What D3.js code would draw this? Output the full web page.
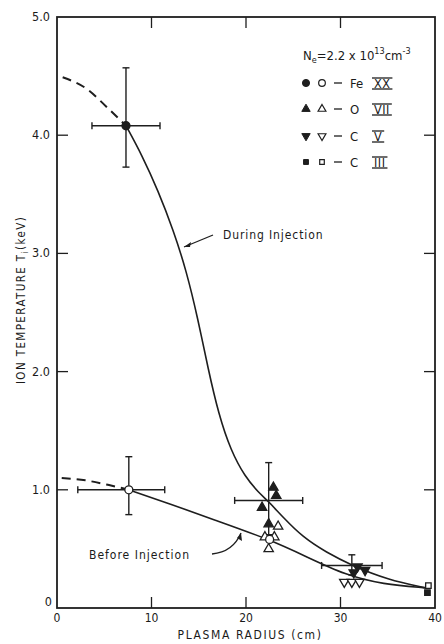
<!DOCTYPE html>
<html>
<head>
<meta charset="utf-8">
<script src="https://cdn.jsdelivr.net/npm/d3@7"></script>
<style>
  html, body { margin: 0; padding: 0; background: #fff; }
  svg text { font-family: "DejaVu Sans Condensed", "DejaVu Sans", sans-serif; fill: #1a1a1a; }
</style>
</head>
<body>
<svg id="chart" width="444" height="644"></svg>
<script>
// Axis ticks
const xTicks = [0, 10, 20, 30, 40];
const xTickLabels = ["0", "10", "20", "30", "40"];
const yTicks = [0, 1, 2, 3, 4, 5];
const yTickLabels = ["0", "1.0", "2.0", "3.0", "4.0", "5.0"];

// Fitted profiles: [radius cm, Ti keV]
const duringExtrap = [[0.6, 4.49], [3, 4.4], [5.5, 4.22], [7.3, 4.08]];
const duringFit = [[7.3, 4.08], [9.0, 3.83], [10.7, 3.53], [12.3, 3.2], [13.7, 2.85], [14.9, 2.45], [16.0, 2.02], [17.1, 1.64], [18.4, 1.33], [19.9, 1.11], [21.3, 0.98], [22.4, 0.9], [24.0, 0.76], [26.0, 0.6], [28.5, 0.47], [31.2, 0.36], [35, 0.24], [39, 0.17]];
const beforeExtrap = [[0.5, 1.1], [3, 1.08], [5.5, 1.04], [7.6, 1.0]];
const beforeFit = [[7.6, 1.0], [12, 0.88], [16.5, 0.75], [22.5, 0.58], [26.5, 0.43], [30.5, 0.28], [34.5, 0.2], [39, 0.17]];

// Error crosses: centre, radial span, temperature span
const errR = [7.3, 7.6, 22.4, 31.2];
const errT = [4.08, 1.0, 0.91, 0.36];
const errRLo = [3.7, 2.2, 18.8, 28.0];
const errRHi = [10.9, 11.4, 26.0, 34.4];
const errTLo = [3.73, 0.79, 0.62, 0.28];
const errTHi = [4.57, 1.28, 1.23, 0.45];

// Line-ratio measurements, by ion (filled = during, open = before)
const feDuring = [[7.3, 4.08]];
const feBefore = [[7.6, 1.0], [22.5, 0.58]];
const oDuring = [[22.9, 1.02], [23.2, 0.95], [21.7, 0.85], [22.4, 0.71]];
const oBefore = [[23.4, 0.69], [22.0, 0.6], [23.0, 0.6], [22.4, 0.5]];
const cvDuring = [[31.8, 0.35], [32.6, 0.32], [31.4, 0.3]];
const cvBefore = [[30.4, 0.22], [31.2, 0.22], [32.0, 0.22]];
const ciiiDuring = [[39.2, 0.13]];
const ciiiBefore = [[39.3, 0.19]];

// Legend rows
const legendSymbols = ["circle", "triangle", "triangleDown", "square"];
const legendElements = ["Fe", "O", "C", "C"];
const legendStages = ["XX", "VII", "V", "III"];

const svg = d3.select("#chart");
const x = d3.scaleLinear().domain([0, 40]).range([57, 435]);
const y = d3.scaleLinear().domain([0, 5]).range([608, 17]);
const ink = "#1e1e1e";

// Frame
svg.append("rect")
  .attr("x", x(0)).attr("y", y(5))
  .attr("width", x(40) - x(0)).attr("height", y(0) - y(5))
  .attr("fill", "none").attr("stroke", ink).attr("stroke-width", 1.8);

// Inward ticks on all four sides
const tickLen = 11;
const ticksG = svg.append("g").attr("stroke", ink).attr("stroke-width", 1.3);
xTicks.slice(1, -1).forEach(v => {
  ticksG.append("line").attr("x1", x(v)).attr("x2", x(v)).attr("y1", y(0)).attr("y2", y(0) - tickLen);
  ticksG.append("line").attr("x1", x(v)).attr("x2", x(v)).attr("y1", y(5)).attr("y2", y(5) + tickLen);
});
yTicks.slice(1, -1).forEach(v => {
  ticksG.append("line").attr("x1", x(0)).attr("x2", x(0) + tickLen).attr("y1", y(v)).attr("y2", y(v));
  ticksG.append("line").attr("x1", x(40)).attr("x2", x(40) - tickLen).attr("y1", y(v)).attr("y2", y(v));
});

// Tick labels
svg.append("g").selectAll("text").data(xTicks).join("text")
  .attr("x", d => x(d)).attr("y", 622)
  .attr("text-anchor", "middle").attr("font-size", 12)
  .text((d, i) => xTickLabels[i]);
svg.append("g").selectAll("text").data(yTicks).join("text")
  .attr("x", d => d === 0 ? 52 : 50).attr("y", d => y(d) + (d === 0 ? -2 : 4))
  .attr("text-anchor", "end").attr("font-size", 12.5)
  .text((d, i) => yTickLabels[i]);

// Axis titles
svg.append("text").attr("x", 250).attr("y", 639).attr("text-anchor", "middle")
  .attr("font-size", 12).attr("letter-spacing", 1.6).text("PLASMA RADIUS (cm)");
const yTitle = svg.append("text")
  .attr("transform", "translate(25,300) rotate(-90)")
  .attr("text-anchor", "middle").attr("font-size", 11.5).attr("letter-spacing", 1.4);
yTitle.append("tspan").text("ION TEMPERATURE  T");
yTitle.append("tspan").attr("font-size", 8).attr("dy", 3).text("i");
yTitle.append("tspan").attr("dy", -3).text("(keV)");

// Profiles: smooth B-spline through the hand-fitted points
const smooth = d3.line().x(d => x(d[0])).y(d => y(d[1])).curve(d3.curveBasis);
const dashed = d3.line().x(d => x(d[0])).y(d => y(d[1])).curve(d3.curveMonotoneX);
svg.append("path").datum(duringExtrap).attr("d", dashed)
  .attr("fill", "none").attr("stroke", ink).attr("stroke-width", 2).attr("stroke-dasharray", "9,6");
svg.append("path").datum(beforeExtrap).attr("d", dashed)
  .attr("fill", "none").attr("stroke", ink).attr("stroke-width", 2).attr("stroke-dasharray", "9,6");
svg.append("path").datum(duringFit).attr("d", smooth)
  .attr("fill", "none").attr("stroke", ink).attr("stroke-width", 1.6);
svg.append("path").datum(beforeFit).attr("d", smooth)
  .attr("fill", "none").attr("stroke", ink).attr("stroke-width", 1.6);

// Error crosses with end caps
const errG = svg.append("g").attr("stroke", ink).attr("stroke-width", 1.4);
const cap = 3.5;
errR.forEach((r, i) => {
  errG.append("line").attr("x1", x(errRLo[i])).attr("x2", x(errRHi[i])).attr("y1", y(errT[i])).attr("y2", y(errT[i]));
  errG.append("line").attr("x1", x(r)).attr("x2", x(r)).attr("y1", y(errTLo[i])).attr("y2", y(errTHi[i]));
  errG.append("line").attr("x1", x(errRLo[i])).attr("x2", x(errRLo[i])).attr("y1", y(errT[i]) - cap).attr("y2", y(errT[i]) + cap);
  errG.append("line").attr("x1", x(errRHi[i])).attr("x2", x(errRHi[i])).attr("y1", y(errT[i]) - cap).attr("y2", y(errT[i]) + cap);
  errG.append("line").attr("x1", x(r) - cap).attr("x2", x(r) + cap).attr("y1", y(errTLo[i])).attr("y2", y(errTLo[i]));
  errG.append("line").attr("x1", x(r) - cap).attr("x2", x(r) + cap).attr("y1", y(errTHi[i])).attr("y2", y(errTHi[i]));
});

// Marker shapes
const symbolTypes = {
  circle: d3.symbolCircle,
  triangle: d3.symbolTriangle,
  triangleDown: d3.symbolTriangle,
  square: d3.symbolSquare
};
const symbolSizes = { circle: 50, triangle: 38, triangleDown: 38, square: 30 };
function drawMarks(data, kind, filled) {
  svg.append("g").selectAll("path").data(data).join("path")
    .attr("d", d3.symbol().type(symbolTypes[kind]).size(symbolSizes[kind]))
    .attr("transform", d => `translate(${x(d[0])},${y(d[1])})` + (kind === "triangleDown" ? " rotate(180)" : ""))
    .attr("fill", filled ? ink : "#fff")
    .attr("stroke", ink).attr("stroke-width", 1.3);
}
drawMarks(oBefore, "triangle", false);
drawMarks(oDuring, "triangle", true);
drawMarks(cvBefore, "triangleDown", false);
drawMarks(cvDuring, "triangleDown", true);
drawMarks(ciiiDuring, "square", true);
drawMarks(ciiiBefore, "square", false);
drawMarks(feBefore, "circle", false);
drawMarks(feDuring, "circle", true);

// Curve annotations
svg.append("text").attr("x", 223).attr("y", 239).attr("font-size", 12).attr("letter-spacing", 0.9)
  .text("During Injection");
svg.append("path").attr("d", "M213,235 L184,247").attr("stroke", ink).attr("stroke-width", 1.3).attr("fill", "none");
svg.append("path").attr("d", "M184,247 l7,-5 l-1,5 z").attr("fill", ink);
svg.append("text").attr("x", 89).attr("y", 559).attr("font-size", 12).attr("letter-spacing", 1.0)
  .text("Before Injection");
svg.append("path").attr("d", "M212,554 Q233,552 241,533").attr("stroke", ink).attr("stroke-width", 1.3).attr("fill", "none");
svg.append("path").attr("d", "M241,533 l1,8 l-5,-3 z").attr("fill", ink);

// Legend
const leg = svg.append("g");
const ne = leg.append("text").attr("x", 303).attr("y", 60).attr("font-size", 13);
ne.append("tspan").text("N");
ne.append("tspan").attr("font-size", 9).attr("dy", 3).text("e");
ne.append("tspan").attr("dy", -3).text("=2.2 x 10");
ne.append("tspan").attr("font-size", 9).attr("dy", -6).text("13");
ne.append("tspan").attr("dy", 6).text("cm");
ne.append("tspan").attr("font-size", 9).attr("dy", -6).text("-3");

const rowY = [83, 109, 136, 162];
legendSymbols.forEach((kind, i) => {
  const yy = rowY[i];
  const rot = kind === "triangleDown" ? " rotate(180)" : "";
  leg.append("path").attr("d", d3.symbol().type(symbolTypes[kind]).size(symbolSizes[kind] * 0.8)())
    .attr("transform", `translate(306,${yy})` + rot).attr("fill", ink).attr("stroke", ink).attr("stroke-width", 1);
  leg.append("path").attr("d", d3.symbol().type(symbolTypes[kind]).size(symbolSizes[kind] * 0.7)())
    .attr("transform", `translate(322,${yy})` + rot).attr("fill", "#fff").attr("stroke", ink).attr("stroke-width", 1.2);
  leg.append("line").attr("x1", 334).attr("x2", 342).attr("y1", yy).attr("y2", yy).attr("stroke", ink).attr("stroke-width", 1.3);
  leg.append("text").attr("x", 350).attr("y", yy + 5).attr("font-size", 13).text(legendElements[i]);
  const st = leg.append("text").attr("x", 374).attr("y", yy + 5).attr("font-size", 12.5)
    .attr("letter-spacing", 0.5).text(legendStages[i]);
  const w = st.node().getComputedTextLength();
  leg.append("line").attr("x1", 372).attr("x2", 376 + w).attr("y1", yy - 5).attr("y2", yy - 5).attr("stroke", ink).attr("stroke-width", 1.3);
  leg.append("line").attr("x1", 372).attr("x2", 376 + w).attr("y1", yy + 6).attr("y2", yy + 6).attr("stroke", ink).attr("stroke-width", 1.3);
});
</script>
</body>
</html>
